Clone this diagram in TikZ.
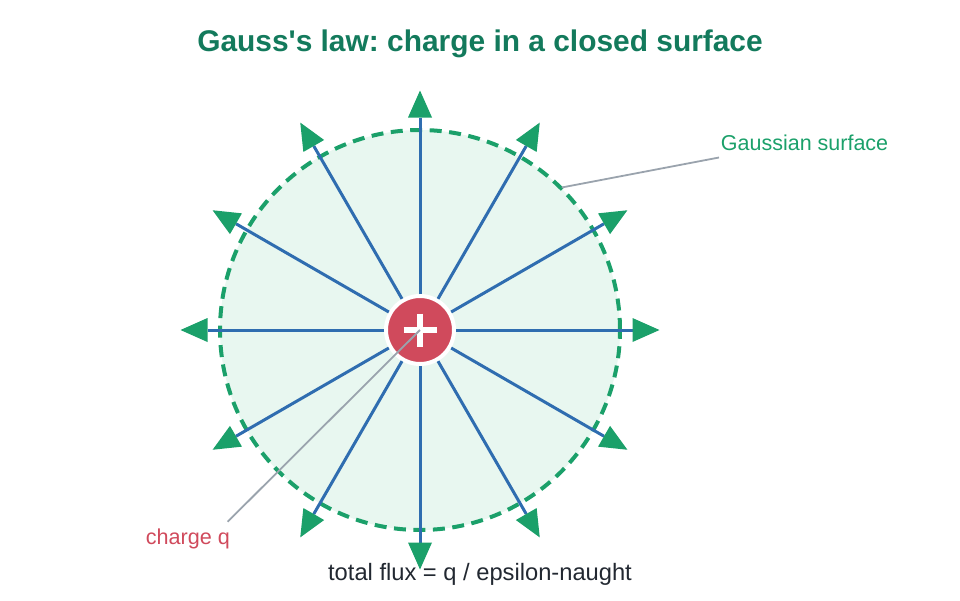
\documentclass[tikz,border=0pt]{standalone}
\usepackage{fontspec}
\setmainfont{Liberation Sans}
\usetikzlibrary{arrows.meta,calc}
\frenchspacing
\definecolor{agreen}{HTML}{1BA06A}
\definecolor{dgreen}{HTML}{137A5C}
\definecolor{lgreen}{HTML}{E8F7F0}
\definecolor{fblue}{HTML}{2F6DB0}
\definecolor{cred}{HTML}{D04A5C}
\definecolor{lgray}{HTML}{9AA3AD}
\definecolor{tdark}{HTML}{222831}
\tikzset{
  fieldline/.style={draw=fblue, line width=3pt,
    -{Triangle[length=27pt,width=24pt,line width=0pt,color=agreen]}},
  leader/.style={draw=lgray, line width=1.8pt},
  surface/.style={draw=agreen, line width=4pt, dash pattern=on 12pt off 7.5pt, fill=lgreen},
  chargebox/.style={circle, fill=cred, draw=white, line width=4pt, minimum size=68pt, inner sep=0pt},
}
\begin{document}
\begin{tikzpicture}[x=1pt,y=-1pt]
\useasboundingbox (0,0) rectangle (960,600);
% title
\node[anchor=base, text=dgreen, font=\fontsize{29.9}{34}\selectfont\bfseries] (title) at (480,51) {Gauss\textquotesingle s law: charge in a closed surface};
% gaussian surface
\node[circle, surface, minimum size=400pt, inner sep=0pt] (gs) at (420,330) {};
% charge
\node[chargebox] (q) at (420,330) {};
% field lines
\foreach \a [count=\i] in {0,30,...,330} {
  \coordinate (t\i) at ($(420,330)+(\a:239.5)$);
}
\foreach \i in {1,...,12} {
  \draw[fieldline] (q) -- (t\i);
}
% plus sign
\draw[white, line width=6pt] ($(q.center)+(-16.5,0)$) -- ($(q.center)+(16.5,0)$)
  ($(q.center)+(0,-16.5)$) -- ($(q.center)+(0,16.5)$);
% labels
\node[anchor=base west, inner sep=0pt, text=agreen, font=\fontsize{21.5}{26}\selectfont] (gl) at (720.7,150) {Gaussian surface};
\coordinate (gla) at (719,157.5);
\coordinate (glb) at (561.7,187.5);
\draw[leader] (gla) -- (glb);
\node[anchor=base west, inner sep=0pt, text=cred, font=\fontsize{21.6}{26}\selectfont] (ql) at (145.7,544) {charge q};
\coordinate (qla) at (227.7,521.7);
\draw[leader] (qla) -- (q.center);
\node[anchor=base, inner sep=0pt, text=tdark, font=\fontsize{23.7}{28}\selectfont] (flux) at (480,580.7) {total flux = q / epsilon-naught};
\end{tikzpicture}
\end{document}
